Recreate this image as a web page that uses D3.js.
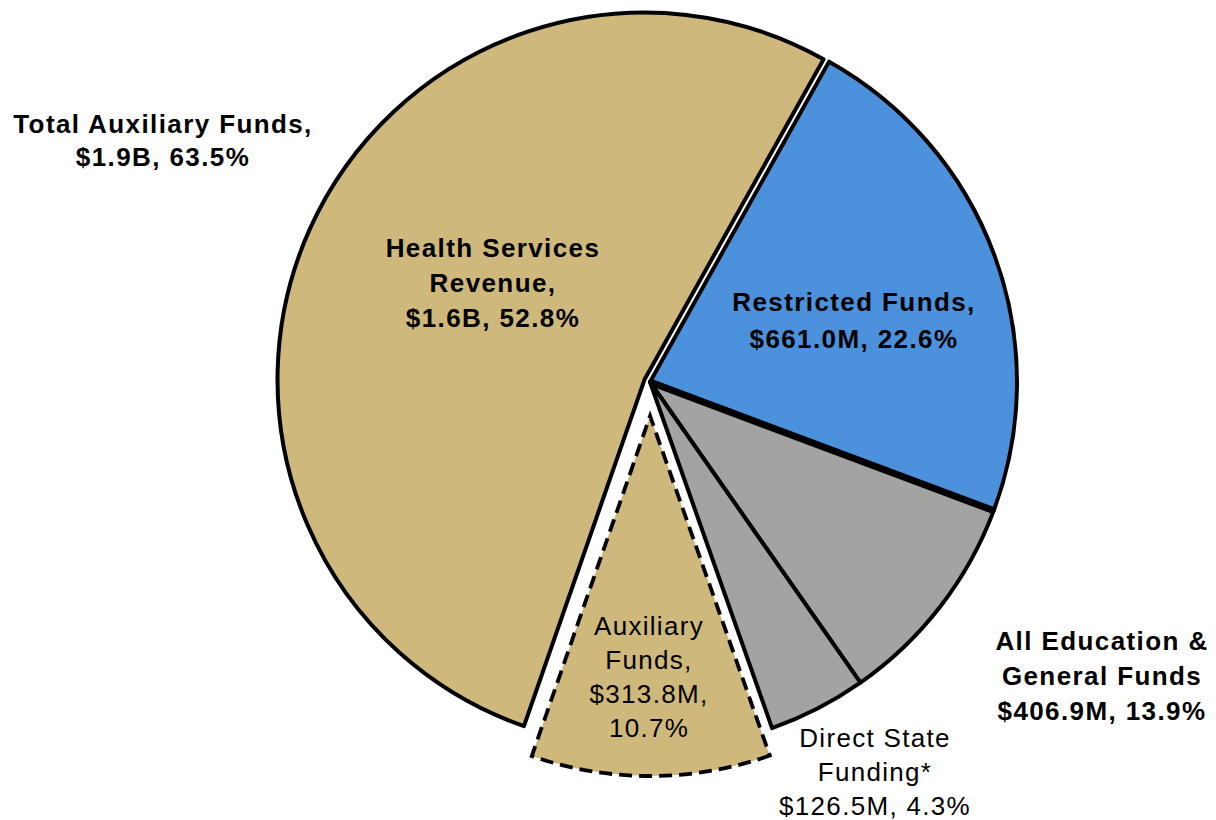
<!DOCTYPE html>
<html>
<head>
<meta charset="utf-8">
<script src="https://cdn.jsdelivr.net/npm/d3@7"></script>
<style>
  html, body { margin: 0; padding: 0; background: #ffffff; }
  svg { display: block; }
  text { font-family: "Liberation Sans", Arial, Helvetica, sans-serif; fill: #000; }
</style>
</head>
<body>
<script>
// ---- Data (millions of dollars) ----
const categories = ["Restricted Funds", "Other Education & General", "Direct State Funding*", "Auxiliary Funds", "Health Services Revenue"];
const values = [661.0, 280.4, 126.5, 313.8, 1544.6];
const colors = ["#4B91DB", "#A3A4A2", "#A3A4A2", "#CFB87C", "#CFB87C"];

// label blocks
const labelLines = [
  ["Total Auxiliary Funds,", "$1.9B, 63.5%"],
  ["Health Services", "Revenue,", "$1.6B, 52.8%"],
  ["Restricted Funds,", "$661.0M, 22.6%"],
  ["All Education &", "General Funds", "$406.9M, 13.9%"],
  ["Direct State", "Funding*", "$126.5M, 4.3%"],
  ["Auxiliary", "Funds,", "$313.8M,", "10.7%"]
];
const labelBold = [true, true, true, true, false, false];

// ---- Layout ----
const W = 1216, H = 820;
const cx = 650, cy = 382, R = 367;
const startDeg = 29.2;

const svg = d3.select("body").append("svg").attr("width", W).attr("height", H);
const g = svg.append("g").attr("transform", `translate(${cx},${cy})`);

const start = startDeg * Math.PI / 180;
const pie = d3.pie().sort(null).value(d => d).startAngle(start).endAngle(start + 2 * Math.PI);
const arcs = pie(values);
const arc = d3.arc().innerRadius(0).outerRadius(R);
const arcAux = d3.arc().innerRadius(0).outerRadius(360);

function offset(a, d) {
  const m = (a.startAngle + a.endAngle) / 2;
  return [Math.sin(m) * d, -Math.cos(m) * d];
}

// gray slices
[1, 2].forEach(i => {
  g.append("path").attr("d", arc(arcs[i]))
    .attr("fill", colors[i]).attr("stroke", "#000").attr("stroke-width", 4)
    .attr("stroke-linejoin", "round");
});
// restricted
g.append("path").attr("d", arc(arcs[0]))
  .attr("fill", colors[0]).attr("stroke", "#000").attr("stroke-width", 4)
  .attr("stroke-linejoin", "round");

// thick separator between restricted and E&G
const sepA = arcs[0].endAngle;
g.append("line")
  .attr("x1", 0).attr("y1", 0)
  .attr("x2", Math.sin(sepA) * (R + 1)).attr("y2", -Math.cos(sepA) * (R + 1))
  .attr("stroke", "#000").attr("stroke-width", 7);

// health services (slightly pulled out)
const ho = offset(arcs[4], 6);
g.append("path").attr("d", arc(arcs[4]))
  .attr("transform", `translate(${ho[0]},${ho[1]})`)
  .attr("fill", colors[4]).attr("stroke", "#000").attr("stroke-width", 4)
  .attr("stroke-linejoin", "round");

// auxiliary funds (exploded, dashed)
const ao = offset(arcs[3], 34);
g.append("path").attr("d", arcAux(arcs[3]))
  .attr("transform", `translate(${ao[0]},${ao[1]})`)
  .attr("fill", colors[3]).attr("stroke", "#000").attr("stroke-width", 3.8)
  .attr("stroke-dasharray", "13,7");

// ---- Labels ----
const labelPos = [
  { x: 163, y: 133, lh: 33 },
  { x: 493, y: 257, lh: 35 },
  { x: 854, y: 311, lh: 37 },
  { x: 1102, y: 650, lh: 35 },
  { x: 875, y: 747, lh: 34 },
  { x: 649, y: 635, lh: 34 }
];

labelLines.forEach((lines, i) => {
  const p = labelPos[i];
  const t = svg.append("text")
    .attr("text-anchor", "middle")
    .attr("font-size", 26)
    .attr("letter-spacing", labelBold[i] ? "1.4px" : "1.3px")
    .attr("font-weight", labelBold[i] ? "bold" : "normal");
  lines.forEach((s, j) => {
    t.append("tspan").attr("x", p.x).attr("y", p.y + j * p.lh).text(s);
  });
});
</script>
</body>
</html>
